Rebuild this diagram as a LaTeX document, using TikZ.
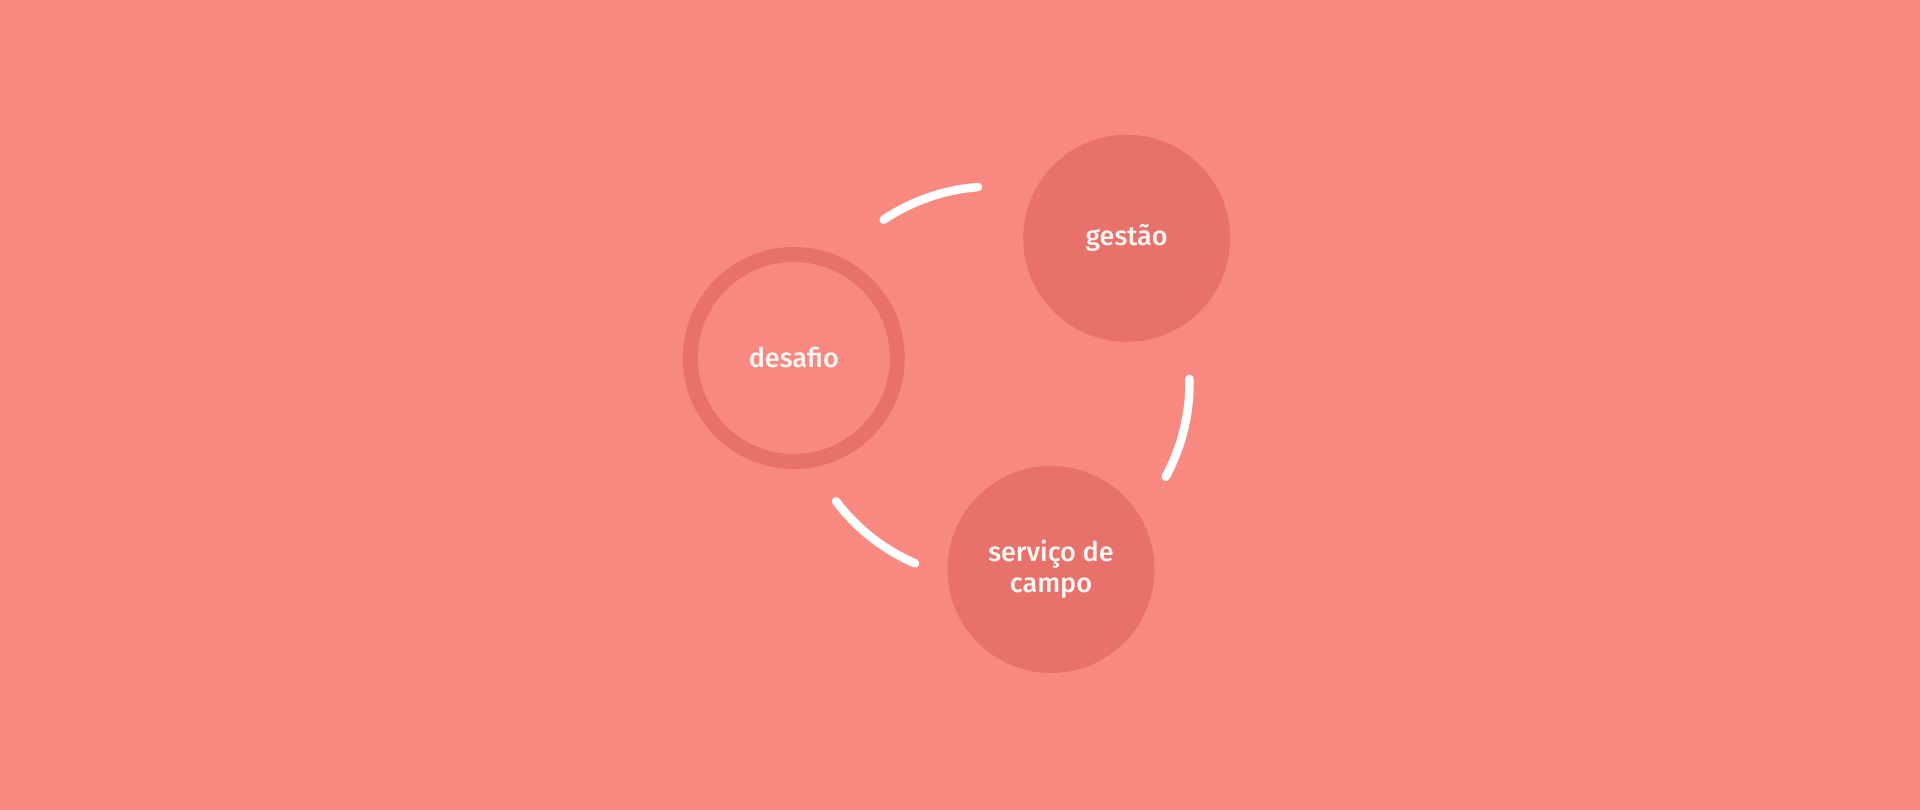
\documentclass[tikz,border=0pt]{standalone}
\usepackage{fontspec}
\setmainfont{Fira Sans}[UprightFont={* Medium}]
\definecolor{bgc}{RGB}{248,137,128}
\definecolor{dark}{RGB}{232,114,107}
\definecolor{txt}{RGB}{255,248,244}
\begin{document}
\begin{tikzpicture}[x=1pt,y=1pt,
  lbl/.style={text=txt,font=\fontsize{27}{31}\selectfont,align=center},
  filledc/.style={circle,fill=dark,minimum size=207pt,inner sep=0pt},
  ringc/.style={circle,draw=dark,line width=15pt,minimum size=207pt,inner sep=0pt},
  link/.style={draw=white,line width=8.5pt,line cap=round}]
\fill[bgc] (0,0) rectangle (1920,810);
\useasboundingbox (0,0) rectangle (1920,810);
\coordinate (c) at (993,427);
\node[ringc,lbl] (desafio) at (793.8,452) {desafio};
\node[filledc,lbl] (gestao) at (1126.7,571.7) {gestão};
\node[filledc,lbl] (servico) at (1051,240.5) {serviço de\\campo};
\draw[link] ([shift={(c)}]123.8:196.5) arc[start angle=123.8,end angle=94.4,radius=196.5];
\draw[link] ([shift={(c)}]1.2:196.5) arc[start angle=1.2,end angle=-28.5,radius=196.5];
\draw[link] ([shift={(c)}]217:196.5) arc[start angle=217,end angle=246.6,radius=196.5];
\end{tikzpicture}
\end{document}
